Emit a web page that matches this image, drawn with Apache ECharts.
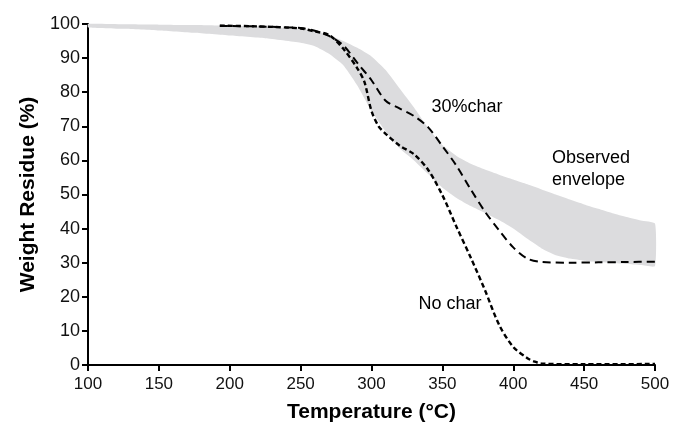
<!DOCTYPE html>
<html lang="en">
<head>
  <meta charset="UTF-8">
  <title>TGA weight residue</title>
  <style>
    * { margin: 0; padding: 0; }
    html, body { width: 100%; height: 100%; background: #fff; }
    #main { width: 674px; height: 428px; }
  </style>
</head>
<body>
  <div id="main"></div>
  <script src="https://cdn.jsdelivr.net/npm/echarts@6/dist/echarts.min.js"></script>
  <script>
    // observed envelope (grey band): temperature, lower and upper edge
    var envTemp = [100, 125, 150, 175, 200, 225, 250, 260, 270, 280, 290, 300, 310, 320, 330, 340, 350, 360, 370, 380, 390, 400, 410, 420, 430, 440, 450, 460, 470, 480, 490, 500];
    var envLow  = [99.0, 98.6, 98.1, 97.4, 96.6, 95.8, 94.5, 93.5, 91.3, 88.0, 82.0, 74.5, 68.5, 63.5, 60.0, 56.0, 52.0, 49.0, 46.6, 44.6, 42.5, 40.0, 37.0, 34.2, 32.2, 31.2, 30.6, 30.2, 29.9, 29.6, 29.3, 29.0];
    var envHigh = [100.0, 99.9, 99.8, 99.7, 99.5, 99.2, 98.5, 98.0, 96.7, 95.0, 93.0, 90.5, 86.5, 81.0, 75.5, 69.5, 64.5, 61.3, 59.0, 57.3, 55.8, 54.4, 53.0, 51.5, 50.0, 48.5, 47.1, 45.8, 44.5, 43.4, 42.4, 41.5];

    // 30% char curve
    var charTemp = [193, 200, 220, 240, 250, 260, 270, 280, 290, 300, 310, 320, 330, 340, 350, 360, 370, 380, 390, 400, 410, 420, 440, 460, 480, 500];
    var charVal  = [99.5, 99.4, 99.3, 99.0, 98.8, 98.0, 96.5, 93.8, 88.6, 83.5, 77.5, 75.2, 73.0, 69.7, 64.2, 58.4, 51.5, 45.0, 39.5, 34.5, 31.2, 30.2, 30.0, 30.1, 30.2, 30.3];

    // no char curve
    var noTemp = [193, 220, 250, 260, 270, 280, 290, 295, 300, 305, 310, 320, 330, 340, 350, 360, 370, 380, 390, 400, 410, 415, 420, 450, 500];
    var noVal  = [99.5, 99.3, 98.7, 97.8, 96.8, 92.8, 87.0, 83.0, 74.5, 70.0, 67.8, 64.3, 61.8, 57.2, 49.8, 40.5, 31.5, 22.0, 11.8, 5.3, 2.0, 1.0, 0.4, 0.2, 0.3];

    // annotations (anchor in data units)
    var noteText = ['30%char', 'Observed\nenvelope', 'No char'];
    var noteTemp = [367.4, 427.3, 355.4];
    var noteVal  = [75.6, 57.6, 18.0];
    var noteAlign = ['center', 'left', 'center'];

    function pairs(xs, ys) {
      return xs.map(function (x, i) { return [x, ys[i]]; });
    }

    var font = 'Liberation Sans, Arial, Helvetica, sans-serif';
    var chart = echarts.init(document.getElementById('main'));

    // the band is drawn once, as one polygon: upper edge then lower edge back
    function renderBand(params, api) {
      if (params.dataIndex !== 0) return null;
      var pts = [];
      for (var i = 0; i < envTemp.length; i++) pts.push(api.coord([envTemp[i], envHigh[i]]));
      for (var j = envTemp.length - 1; j >= 0; j--) pts.push(api.coord([envTemp[j], envLow[j]]));
      return {
        type: 'polygon',
        shape: { points: pts, smooth: 0.15 },
        style: { fill: '#dcdcde' }
      };
    }

    var axisStyle = { color: '#000', width: 2 };

    var option = {
      animation: false,
      grid: { left: 88, right: 19, top: 24, bottom: 60 },
      xAxis: {
        type: 'value',
        min: 100,
        max: 500,
        interval: 50,
        name: 'Temperature (°C)',
        nameLocation: 'middle',
        nameGap: 37,
        nameTextStyle: { fontSize: 21, fontWeight: 'bold', color: '#000', fontFamily: font },
        axisLine: { lineStyle: axisStyle },
        axisTick: { length: 6, lineStyle: axisStyle },
        axisLabel: { fontSize: 17, color: '#111', margin: 11, fontFamily: font },
        splitLine: { show: false }
      },
      yAxis: {
        type: 'value',
        min: 0,
        max: 100,
        interval: 10,
        name: 'Weight Residue (%)',
        nameLocation: 'middle',
        nameGap: 47,
        nameTextStyle: { fontSize: 21, fontWeight: 'bold', color: '#000', fontFamily: font },
        axisLine: { show: true, lineStyle: axisStyle },
        axisTick: { show: true, length: 6, lineStyle: axisStyle },
        axisLabel: { fontSize: 18, color: '#111', margin: 8, fontFamily: font },
        splitLine: { show: false }
      },
      series: [
        {
          name: 'Observed envelope',
          type: 'custom',
          renderItem: renderBand,
          data: envTemp.map(function (t, i) { return [t, envLow[i], envHigh[i]]; }),
          encode: { x: 0, y: [1, 2] },
          clip: false,
          silent: true,
          z: 1
        },
        {
          name: '30%char',
          type: 'line',
          data: pairs(charTemp, charVal),
          smooth: 0.3,
          showSymbol: false,
          lineStyle: { color: '#000', width: 2, type: [8, 5] },
          z: 3
        },
        {
          name: 'No char',
          type: 'line',
          data: pairs(noTemp, noVal),
          smooth: 0.3,
          showSymbol: false,
          lineStyle: { color: '#000', width: 2.4, type: [5, 3] },
          z: 3
        }
      ]
    };

    chart.setOption(option);

    // place the text notes through the chart's own coordinate conversion
    var notes = noteText.map(function (txt, i) {
      var p = chart.convertToPixel({ gridIndex: 0 }, [noteTemp[i], noteVal[i]]);
      return {
        type: 'text',
        x: p[0],
        y: p[1],
        z: 10,
        style: {
          text: txt,
          fill: '#000',
          font: '18px ' + font,
          lineHeight: 22,
          align: noteAlign[i],
          verticalAlign: 'middle'
        }
      };
    });
    chart.setOption({ graphic: notes });
  </script>
</body>
</html>
